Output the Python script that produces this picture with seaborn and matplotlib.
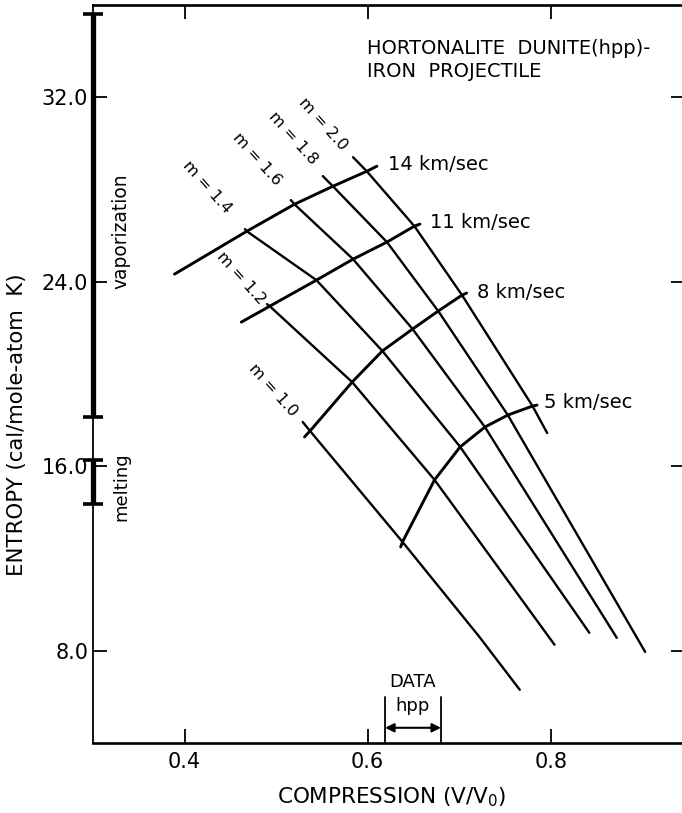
import matplotlib
matplotlib.use("Agg")
import matplotlib.pyplot as plt
import pandas as pd
import seaborn as sns

# ---- constant-m curves: compression (V/V0) vs entropy (cal/mole-atom K) ----
m_names = ["m = 1.0", "m = 1.2", "m = 1.4", "m = 1.6", "m = 1.8", "m = 2.0"]
m10_x = [0.529, 0.537, 0.638, 0.722, 0.766]
m10_y = [17.92, 17.53, 12.72, 8.60, 6.31]
m12_x = [0.490, 0.493, 0.583, 0.673, 0.804]
m12_y = [23.03, 22.94, 19.65, 15.41, 8.26]
m14_x = [0.466, 0.468, 0.544, 0.616, 0.701, 0.842]
m14_y = [26.28, 26.19, 24.07, 21.00, 16.84, 8.78]
m16_x = [0.516, 0.520, 0.584, 0.649, 0.728, 0.872]
m16_y = [27.54, 27.36, 24.98, 21.95, 17.70, 8.56]
m18_x = [0.551, 0.562, 0.621, 0.677, 0.753, 0.903]
m18_y = [28.58, 28.14, 25.72, 22.73, 18.22, 7.95]
m20_x = [0.584, 0.599, 0.651, 0.703, 0.780, 0.796]
m20_y = [29.40, 28.79, 26.41, 23.42, 18.61, 17.44]

# ---- constant impact-velocity curves ----
v_names = ["14 km/sec", "11 km/sec", "8 km/sec", "5 km/sec"]
v14_x = [0.389, 0.468, 0.520, 0.562, 0.599, 0.610]
v14_y = [24.33, 26.19, 27.36, 28.14, 28.79, 29.01]
v11_x = [0.462, 0.493, 0.544, 0.584, 0.621, 0.651, 0.657]
v11_y = [22.25, 22.94, 24.07, 24.98, 25.72, 26.41, 26.50]
v8_x = [0.531, 0.537, 0.583, 0.616, 0.649, 0.677, 0.703, 0.708]
v8_y = [17.27, 17.53, 19.65, 21.00, 21.95, 22.73, 23.42, 23.51]
v5_x = [0.636, 0.638, 0.673, 0.701, 0.728, 0.753, 0.780, 0.785]
v5_y = [12.50, 12.72, 15.41, 16.84, 17.70, 18.22, 18.61, 18.65]

# entropy ranges marked on the left axis
vaporization_range = [18.15, 35.6]
melting_range = [14.35, 16.25]

# compression range of the hpp data
hpp_range = [0.619, 0.680]

x_ticks = [0.4, 0.6, 0.8]
x_ticklabels = ["0.4", "0.6", "0.8"]
y_ticks = [8.0, 16.0, 24.0, 32.0]
y_ticklabels = ["8.0", "16.0", "24.0", "32.0"]

m_curves = list(zip(m_names, [m10_x, m12_x, m14_x, m16_x, m18_x, m20_x],
                    [m10_y, m12_y, m14_y, m16_y, m18_y, m20_y]))
v_curves = list(zip(v_names, [v14_x, v11_x, v8_x, v5_x],
                    [v14_y, v11_y, v8_y, v5_y]))

rows = []
for name, xs, ys in m_curves:
    for i, (x, y) in enumerate(zip(xs, ys)):
        rows.append({"curve": name, "kind": "m", "order": i, "V/V0": x, "S": y})
for name, xs, ys in v_curves:
    for i, (x, y) in enumerate(zip(xs, ys)):
        rows.append({"curve": name, "kind": "v", "order": i, "V/V0": x, "S": y})
df = pd.DataFrame(rows)

sns.set_theme(style="ticks")
plt.rcParams["font.family"] = ["DejaVu Sans"]
plt.rcParams["mathtext.fontset"] = "dejavusans"
plt.rcParams["text.color"] = "black"
plt.rcParams["axes.labelcolor"] = "black"

fig = plt.figure(figsize=(6.82, 8.13), dpi=100)
ax = fig.add_axes([93 / 682, 70 / 813, 592 / 682, 738 / 813])

for name, sub in df.groupby("curve", sort=False):
    lw = 1.7 if sub["kind"].iloc[0] == "m" else 2.1
    sns.lineplot(data=sub, x="V/V0", y="S", sort=False, estimator=None,
                 color="black", lw=lw, ax=ax, legend=False)

ax.set_xlim(0.3, 0.9465)
ax.set_ylim(4.0, 36.0)

# constant-m labels above the upper ends
m_label_pos = [(0.497, 19.30), (0.462, 24.15), (0.425, 28.10), (0.479, 29.30),
               (0.518, 30.22), (0.551, 30.85)]
for (name, _, _), (lx, ly) in zip(m_curves, m_label_pos):
    ax.text(lx, ly, name, rotation=-48, rotation_mode="anchor",
            ha="center", va="center", fontsize=11.5)

# velocity labels at the right ends
v_label_pos = [(0.622, 29.1), (0.668, 26.58), (0.719, 23.55), (0.793, 18.78)]
for (name, _, _), (lx, ly) in zip(v_curves, v_label_pos):
    ax.text(lx, ly, name, ha="left", va="center", fontsize=14)

ax.text(0.599, 34.12, "HORTONALITE  DUNITE(hpp)-", ha="left", va="center", fontsize=14)
ax.text(0.599, 33.13, "IRON  PROJECTILE", ha="left", va="center", fontsize=14)

# phase-change bars on the entropy axis
for lo, hi in (vaporization_range, melting_range):
    ax.plot([0.3, 0.3], [lo, hi], color="black", lw=3.8, marker="_",
            ms=15, mew=2.6, clip_on=False, solid_capstyle="butt", zorder=5)
ax.text(0.3306, 26.19, "vaporization", rotation=90, ha="center", va="center", fontsize=13.4)
ax.text(0.3315, 15.10, "melting", rotation=90, ha="center", va="center", fontsize=13)

# hpp data bracket
for xb in hpp_range:
    ax.plot([xb, xb], [4.0, 6.0], color="black", lw=1.3)
ax.annotate("", xy=(hpp_range[0], 4.66), xytext=(hpp_range[1], 4.66),
            arrowprops=dict(arrowstyle="<|-|>", lw=1.5, color="black",
                            mutation_scale=13, shrinkA=0, shrinkB=0))
hx = (hpp_range[0] + hpp_range[1]) / 2
ax.text(hx, 6.65, "DATA", ha="center", va="center", fontsize=13)
ax.text(hx, 5.62, "hpp", ha="center", va="center", fontsize=13)

ax.set_xticks(x_ticks)
ax.set_xticklabels(x_ticklabels)
ax.set_yticks(y_ticks)
ax.set_yticklabels(y_ticklabels)
ax.tick_params(direction="in", length=10, width=1.3, top=True, right=True,
               labelsize=15, colors="black")
ax.tick_params(axis="x", pad=6.5)
ax.tick_params(axis="y", pad=3.5)

for side in ("top", "bottom", "right"):
    ax.spines[side].set_linewidth(1.9)
ax.spines["left"].set_linewidth(1.3)
for sp in ax.spines.values():
    sp.set_color("black")

ax.set_xlabel("COMPRESSION (V/$\\mathregular{V_0}$)", fontsize=15.5)
ax.set_ylabel("ENTROPY (cal/mole-atom  K)", fontsize=15.3)
ax.xaxis.set_label_coords(0.505, -0.058)
ax.yaxis.set_label_coords(-0.111, 0.431)

fig.savefig("out.png", dpi=100)
